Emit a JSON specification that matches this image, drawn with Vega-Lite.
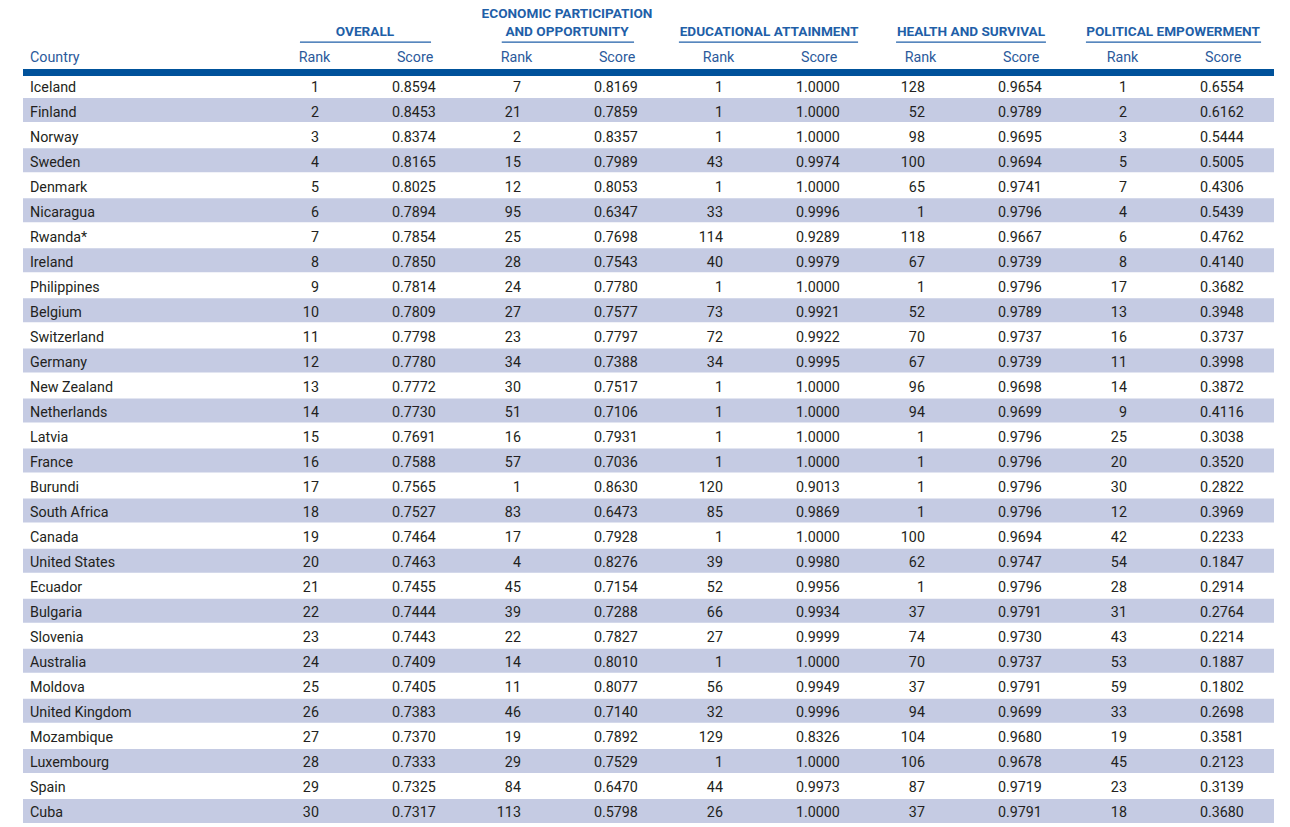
{
  "$schema": "https://vega.github.io/schema/vega-lite/v6.json",
  "width": 1251,
  "height": 800,
  "padding": {"left": 23, "top": 23, "right": 16, "bottom": 4},
  "autosize": {"type": "none"},
  "background": "white",
  "data": {"values": [{}]},
  "config": {
    "view": {"stroke": null},
    "text": {"font": "Roboto, sans-serif", "fontSize": 14.3, "color": "#231f20"}
  },
  "datasets": {
    "rows": [
      {"Country": "Iceland", "o_r": 1, "o_s": 0.8594, "e_r": 7, "e_s": 0.8169, "d_r": 1, "d_s": 1.0, "h_r": 128, "h_s": 0.9654, "p_r": 1, "p_s": 0.6554},
      {"Country": "Finland", "o_r": 2, "o_s": 0.8453, "e_r": 21, "e_s": 0.7859, "d_r": 1, "d_s": 1.0, "h_r": 52, "h_s": 0.9789, "p_r": 2, "p_s": 0.6162},
      {"Country": "Norway", "o_r": 3, "o_s": 0.8374, "e_r": 2, "e_s": 0.8357, "d_r": 1, "d_s": 1.0, "h_r": 98, "h_s": 0.9695, "p_r": 3, "p_s": 0.5444},
      {"Country": "Sweden", "o_r": 4, "o_s": 0.8165, "e_r": 15, "e_s": 0.7989, "d_r": 43, "d_s": 0.9974, "h_r": 100, "h_s": 0.9694, "p_r": 5, "p_s": 0.5005},
      {"Country": "Denmark", "o_r": 5, "o_s": 0.8025, "e_r": 12, "e_s": 0.8053, "d_r": 1, "d_s": 1.0, "h_r": 65, "h_s": 0.9741, "p_r": 7, "p_s": 0.4306},
      {"Country": "Nicaragua", "o_r": 6, "o_s": 0.7894, "e_r": 95, "e_s": 0.6347, "d_r": 33, "d_s": 0.9996, "h_r": 1, "h_s": 0.9796, "p_r": 4, "p_s": 0.5439},
      {"Country": "Rwanda*", "o_r": 7, "o_s": 0.7854, "e_r": 25, "e_s": 0.7698, "d_r": 114, "d_s": 0.9289, "h_r": 118, "h_s": 0.9667, "p_r": 6, "p_s": 0.4762},
      {"Country": "Ireland", "o_r": 8, "o_s": 0.7850, "e_r": 28, "e_s": 0.7543, "d_r": 40, "d_s": 0.9979, "h_r": 67, "h_s": 0.9739, "p_r": 8, "p_s": 0.4140},
      {"Country": "Philippines", "o_r": 9, "o_s": 0.7814, "e_r": 24, "e_s": 0.7780, "d_r": 1, "d_s": 1.0, "h_r": 1, "h_s": 0.9796, "p_r": 17, "p_s": 0.3682},
      {"Country": "Belgium", "o_r": 10, "o_s": 0.7809, "e_r": 27, "e_s": 0.7577, "d_r": 73, "d_s": 0.9921, "h_r": 52, "h_s": 0.9789, "p_r": 13, "p_s": 0.3948},
      {"Country": "Switzerland", "o_r": 11, "o_s": 0.7798, "e_r": 23, "e_s": 0.7797, "d_r": 72, "d_s": 0.9922, "h_r": 70, "h_s": 0.9737, "p_r": 16, "p_s": 0.3737},
      {"Country": "Germany", "o_r": 12, "o_s": 0.7780, "e_r": 34, "e_s": 0.7388, "d_r": 34, "d_s": 0.9995, "h_r": 67, "h_s": 0.9739, "p_r": 11, "p_s": 0.3998},
      {"Country": "New Zealand", "o_r": 13, "o_s": 0.7772, "e_r": 30, "e_s": 0.7517, "d_r": 1, "d_s": 1.0, "h_r": 96, "h_s": 0.9698, "p_r": 14, "p_s": 0.3872},
      {"Country": "Netherlands", "o_r": 14, "o_s": 0.7730, "e_r": 51, "e_s": 0.7106, "d_r": 1, "d_s": 1.0, "h_r": 94, "h_s": 0.9699, "p_r": 9, "p_s": 0.4116},
      {"Country": "Latvia", "o_r": 15, "o_s": 0.7691, "e_r": 16, "e_s": 0.7931, "d_r": 1, "d_s": 1.0, "h_r": 1, "h_s": 0.9796, "p_r": 25, "p_s": 0.3038},
      {"Country": "France", "o_r": 16, "o_s": 0.7588, "e_r": 57, "e_s": 0.7036, "d_r": 1, "d_s": 1.0, "h_r": 1, "h_s": 0.9796, "p_r": 20, "p_s": 0.3520},
      {"Country": "Burundi", "o_r": 17, "o_s": 0.7565, "e_r": 1, "e_s": 0.8630, "d_r": 120, "d_s": 0.9013, "h_r": 1, "h_s": 0.9796, "p_r": 30, "p_s": 0.2822},
      {"Country": "South Africa", "o_r": 18, "o_s": 0.7527, "e_r": 83, "e_s": 0.6473, "d_r": 85, "d_s": 0.9869, "h_r": 1, "h_s": 0.9796, "p_r": 12, "p_s": 0.3969},
      {"Country": "Canada", "o_r": 19, "o_s": 0.7464, "e_r": 17, "e_s": 0.7928, "d_r": 1, "d_s": 1.0, "h_r": 100, "h_s": 0.9694, "p_r": 42, "p_s": 0.2233},
      {"Country": "United States", "o_r": 20, "o_s": 0.7463, "e_r": 4, "e_s": 0.8276, "d_r": 39, "d_s": 0.9980, "h_r": 62, "h_s": 0.9747, "p_r": 54, "p_s": 0.1847},
      {"Country": "Ecuador", "o_r": 21, "o_s": 0.7455, "e_r": 45, "e_s": 0.7154, "d_r": 52, "d_s": 0.9956, "h_r": 1, "h_s": 0.9796, "p_r": 28, "p_s": 0.2914},
      {"Country": "Bulgaria", "o_r": 22, "o_s": 0.7444, "e_r": 39, "e_s": 0.7288, "d_r": 66, "d_s": 0.9934, "h_r": 37, "h_s": 0.9791, "p_r": 31, "p_s": 0.2764},
      {"Country": "Slovenia", "o_r": 23, "o_s": 0.7443, "e_r": 22, "e_s": 0.7827, "d_r": 27, "d_s": 0.9999, "h_r": 74, "h_s": 0.9730, "p_r": 43, "p_s": 0.2214},
      {"Country": "Australia", "o_r": 24, "o_s": 0.7409, "e_r": 14, "e_s": 0.8010, "d_r": 1, "d_s": 1.0, "h_r": 70, "h_s": 0.9737, "p_r": 53, "p_s": 0.1887},
      {"Country": "Moldova", "o_r": 25, "o_s": 0.7405, "e_r": 11, "e_s": 0.8077, "d_r": 56, "d_s": 0.9949, "h_r": 37, "h_s": 0.9791, "p_r": 59, "p_s": 0.1802},
      {"Country": "United Kingdom", "o_r": 26, "o_s": 0.7383, "e_r": 46, "e_s": 0.7140, "d_r": 32, "d_s": 0.9996, "h_r": 94, "h_s": 0.9699, "p_r": 33, "p_s": 0.2698},
      {"Country": "Mozambique", "o_r": 27, "o_s": 0.7370, "e_r": 19, "e_s": 0.7892, "d_r": 129, "d_s": 0.8326, "h_r": 104, "h_s": 0.9680, "p_r": 19, "p_s": 0.3581},
      {"Country": "Luxembourg", "o_r": 28, "o_s": 0.7333, "e_r": 29, "e_s": 0.7529, "d_r": 1, "d_s": 1.0, "h_r": 106, "h_s": 0.9678, "p_r": 45, "p_s": 0.2123},
      {"Country": "Spain", "o_r": 29, "o_s": 0.7325, "e_r": 84, "e_s": 0.6470, "d_r": 44, "d_s": 0.9973, "h_r": 87, "h_s": 0.9719, "p_r": 23, "p_s": 0.3139},
      {"Country": "Cuba", "o_r": 30, "o_s": 0.7317, "e_r": 113, "e_s": 0.5798, "d_r": 26, "d_s": 1.0, "h_r": 37, "h_s": 0.9791, "p_r": 18, "p_s": 0.3680}
    ],
    "groups": [
      {"g": "OVERALL", "t": "OVERALL"},
      {"g": "ECON", "t": "AND OPPORTUNITY"},
      {"g": "EDU", "t": "EDUCATIONAL ATTAINMENT"},
      {"g": "HEALTH", "t": "HEALTH AND SURVIVAL"},
      {"g": "POLITICAL", "t": "POLITICAL EMPOWERMENT"}
    ]
  },
  "layer": [
    {
      "data": {"name": "rows"},
      "transform": [{"filter": "datum.o_r % 2 == 0"}],
      "mark": {"type": "rect", "color": "#c5cbe3"},
      "encoding": {
        "y": {"field": "Country", "type": "nominal", "axis": null,
          "scale": {"type": "band", "paddingInner": 0.04, "paddingOuter": 0,
            "domain": ["title", "sub", "Iceland", "Finland", "Norway", "Sweden", "Denmark", "Nicaragua", "Rwanda*", "Ireland", "Philippines", "Belgium", "Switzerland", "Germany", "New Zealand", "Netherlands", "Latvia", "France", "Burundi", "South Africa", "Canada", "United States", "Ecuador", "Bulgaria", "Slovenia", "Australia", "Moldova", "United Kingdom", "Mozambique", "Luxembourg", "Spain", "Cuba"]}}
      }
    },
    {
      "mark": {"type": "rule", "color": "#00529b", "strokeWidth": 7, "strokeCap": "butt"},
      "encoding": {
        "y": {"datum": "sub", "type": "nominal", "bandPosition": 1.02}
      }
    },
    {
      "mark": {"type": "rule", "color": "#1f5fa8", "strokeWidth": 1.3},
      "encoding": {
        "y": {"datum": "title", "type": "nominal", "bandPosition": 0.8},
        "x": {"datum": "OVERALL", "type": "nominal", "bandPosition": 0.178, "axis": null,
          "scale": {"type": "band", "domain": ["Country", "OVERALL", "ECON", "EDU", "HEALTH", "POLITICAL"], "paddingInner": 0, "paddingOuter": 0.0965, "align": 1}},
        "x2": {"datum": "OVERALL", "bandPosition": 0.827}
      }
    },
    {
      "mark": {"type": "rule", "color": "#1f5fa8", "strokeWidth": 1.3},
      "encoding": {
        "y": {"datum": "title", "type": "nominal", "bandPosition": 0.8},
        "x": {"datum": "ECON", "type": "nominal", "bandPosition": 0.177},
        "x2": {"datum": "ECON", "bandPosition": 0.832}
      }
    },
    {
      "mark": {"type": "rule", "color": "#1f5fa8", "strokeWidth": 1.3},
      "encoding": {
        "y": {"datum": "title", "type": "nominal", "bandPosition": 0.8},
        "x": {"datum": "EDU", "type": "nominal", "bandPosition": 0.054},
        "x2": {"datum": "EDU", "bandPosition": 0.941}
      }
    },
    {
      "mark": {"type": "rule", "color": "#1f5fa8", "strokeWidth": 1.3},
      "encoding": {
        "y": {"datum": "title", "type": "nominal", "bandPosition": 0.8},
        "x": {"datum": "HEALTH", "type": "nominal", "bandPosition": 0.129},
        "x2": {"datum": "HEALTH", "bandPosition": 0.871}
      }
    },
    {
      "mark": {"type": "rule", "color": "#1f5fa8", "strokeWidth": 1.3},
      "encoding": {
        "y": {"datum": "title", "type": "nominal", "bandPosition": 0.8},
        "x": {"datum": "POLITICAL", "type": "nominal", "bandPosition": 0.069},
        "x2": {"datum": "POLITICAL", "bandPosition": 0.936}
      }
    },
    {
      "data": {"name": "groups"},
      "mark": {"type": "text", "fontWeight": "bold", "fontSize": 13.6, "color": "#1f5fa8", "align": "center", "baseline": "bottom"},
      "encoding": {
        "x": {"field": "g", "type": "nominal", "bandPosition": 0.5},
        "y": {"datum": "title", "type": "nominal", "bandPosition": 0.67},
        "text": {"field": "t"}
      }
    },
    {
      "mark": {"type": "text", "fontWeight": "bold", "fontSize": 13.6, "color": "#1f5fa8", "align": "center", "baseline": "bottom", "dy": -18.4},
      "encoding": {
        "x": {"datum": "ECON", "type": "nominal", "bandPosition": 0.5},
        "y": {"datum": "title", "type": "nominal", "bandPosition": 0.67},
        "text": {"value": "ECONOMIC PARTICIPATION"}
      }
    },
    {
      "data": {"name": "groups"},
      "mark": {"type": "text", "color": "#2b5a9b", "align": "center", "baseline": "alphabetic"},
      "encoding": {
        "x": {"field": "g", "type": "nominal", "bandPosition": 0.25},
        "y": {"datum": "sub", "type": "nominal", "bandPosition": 0.58},
        "text": {"value": "Rank"}
      }
    },
    {
      "data": {"name": "groups"},
      "mark": {"type": "text", "color": "#2b5a9b", "align": "center", "baseline": "alphabetic"},
      "encoding": {
        "x": {"field": "g", "type": "nominal", "bandPosition": 0.748},
        "y": {"datum": "sub", "type": "nominal", "bandPosition": 0.58},
        "text": {"value": "Score"}
      }
    },
    {
      "mark": {"type": "text", "color": "#2b5a9b", "align": "left", "baseline": "alphabetic", "dx": -32},
      "encoding": {
        "x": {"datum": "Country", "type": "nominal", "bandPosition": 0},
        "y": {"datum": "sub", "type": "nominal", "bandPosition": 0.58},
        "text": {"value": "Country"}
      }
    },
    {
      "data": {"name": "rows"},
      "layer": [
        {
          "mark": {"type": "text", "align": "left", "baseline": "alphabetic", "dx": -32},
          "encoding": {
            "x": {"datum": "Country", "type": "nominal", "bandPosition": 0},
            "y": {"field": "Country", "type": "nominal", "bandPosition": 0.77},
            "text": {"field": "Country"}
          }
        },
        {
          "mark": {"type": "text", "align": "right", "baseline": "alphabetic"},
          "encoding": {
            "x": {"datum": "OVERALL", "type": "nominal", "bandPosition": 0.272},
            "y": {"field": "Country", "type": "nominal", "bandPosition": 0.77},
            "text": {"field": "o_r", "type": "quantitative"}
          }
        },
        {
          "mark": {"type": "text", "align": "right", "baseline": "alphabetic"},
          "encoding": {
            "x": {"datum": "OVERALL", "type": "nominal", "bandPosition": 0.851},
            "y": {"field": "Country", "type": "nominal", "bandPosition": 0.77},
            "text": {"field": "o_s", "type": "quantitative", "format": ".4f"}
          }
        },
        {
          "mark": {"type": "text", "align": "right", "baseline": "alphabetic"},
          "encoding": {
            "x": {"datum": "ECON", "type": "nominal", "bandPosition": 0.272},
            "y": {"field": "Country", "type": "nominal", "bandPosition": 0.77},
            "text": {"field": "e_r", "type": "quantitative"}
          }
        },
        {
          "mark": {"type": "text", "align": "right", "baseline": "alphabetic"},
          "encoding": {
            "x": {"datum": "ECON", "type": "nominal", "bandPosition": 0.851},
            "y": {"field": "Country", "type": "nominal", "bandPosition": 0.77},
            "text": {"field": "e_s", "type": "quantitative", "format": ".4f"}
          }
        },
        {
          "mark": {"type": "text", "align": "right", "baseline": "alphabetic"},
          "encoding": {
            "x": {"datum": "EDU", "type": "nominal", "bandPosition": 0.272},
            "y": {"field": "Country", "type": "nominal", "bandPosition": 0.77},
            "text": {"field": "d_r", "type": "quantitative"}
          }
        },
        {
          "mark": {"type": "text", "align": "right", "baseline": "alphabetic"},
          "encoding": {
            "x": {"datum": "EDU", "type": "nominal", "bandPosition": 0.851},
            "y": {"field": "Country", "type": "nominal", "bandPosition": 0.77},
            "text": {"field": "d_s", "type": "quantitative", "format": ".4f"}
          }
        },
        {
          "mark": {"type": "text", "align": "right", "baseline": "alphabetic"},
          "encoding": {
            "x": {"datum": "HEALTH", "type": "nominal", "bandPosition": 0.272},
            "y": {"field": "Country", "type": "nominal", "bandPosition": 0.77},
            "text": {"field": "h_r", "type": "quantitative"}
          }
        },
        {
          "mark": {"type": "text", "align": "right", "baseline": "alphabetic"},
          "encoding": {
            "x": {"datum": "HEALTH", "type": "nominal", "bandPosition": 0.851},
            "y": {"field": "Country", "type": "nominal", "bandPosition": 0.77},
            "text": {"field": "h_s", "type": "quantitative", "format": ".4f"}
          }
        },
        {
          "mark": {"type": "text", "align": "right", "baseline": "alphabetic"},
          "encoding": {
            "x": {"datum": "POLITICAL", "type": "nominal", "bandPosition": 0.272},
            "y": {"field": "Country", "type": "nominal", "bandPosition": 0.77},
            "text": {"field": "p_r", "type": "quantitative"}
          }
        },
        {
          "mark": {"type": "text", "align": "right", "baseline": "alphabetic"},
          "encoding": {
            "x": {"datum": "POLITICAL", "type": "nominal", "bandPosition": 0.851},
            "y": {"field": "Country", "type": "nominal", "bandPosition": 0.77},
            "text": {"field": "p_s", "type": "quantitative", "format": ".4f"}
          }
        }
      ]
    }
  ]
}
